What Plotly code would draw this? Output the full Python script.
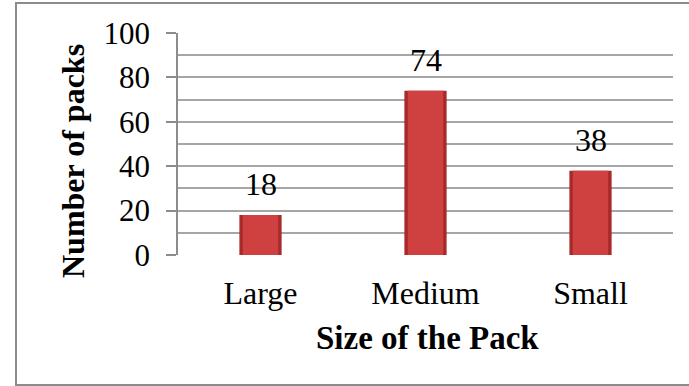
import plotly.graph_objects as go

# Pack size survey data
categories = ["Large", "Medium", "Small"]
packs = [18, 74, 38]
y_ticks = [0, 20, 40, 60, 80, 100]

W, H = 689, 386
ML, MR, MT, MB = 178, 16, 33, 131
pw, ph = W - ML - MR, H - MT - MB

def px_x(x):
    return (x - ML) / pw

def px_y(y):
    return (H - MB - y) / ph

serif = "Liberation Serif, Times New Roman, serif"

fig = go.Figure()
# darker outer body of each bar gives the bevelled edge
fig.add_trace(go.Bar(
    x=categories, y=packs, width=0.256,
    marker=dict(color="#A82A2A", line=dict(width=0)),
    hoverinfo="skip",
))
# lighter face of each bar
fig.add_trace(go.Bar(
    x=categories, y=packs, width=0.215,
    marker=dict(color="#CF4141", line=dict(width=0)),
))

# value labels above the bars
for c, v in zip(categories, packs):
    fig.add_annotation(
        x=c, y=v, text=str(v), showarrow=False,
        yanchor="bottom", yshift=11,
        font=dict(family=serif, size=32, color="#000"),
    )

# axis titles
fig.add_annotation(
    x=px_x(73), y=px_y(161), xref="paper", yref="paper",
    xanchor="center", yanchor="middle",
    text="<b>Number of packs</b>", textangle=-90, showarrow=False,
    font=dict(family=serif, size=32, color="#000"),
)
fig.add_annotation(
    x=px_x(427), y=px_y(338), xref="paper", yref="paper",
    xanchor="center", yanchor="middle",
    text="<b>Size of the Pack</b>", showarrow=False,
    font=dict(family=serif, size=33, color="#000"),
)

# outer chart frame
fig.add_shape(
    type="rect", xref="paper", yref="paper",
    x0=px_x(16), x1=px_x(705), y0=px_y(385), y1=px_y(3),
    line=dict(color="#8C8C8C", width=2), layer="below",
)

fig.update_layout(
    width=W, height=H,
    margin=dict(l=ML, r=MR, t=MT, b=MB),
    paper_bgcolor="white", plot_bgcolor="white",
    barmode="overlay", showlegend=False,
    xaxis=dict(
        range=[-0.5, 2.5], showgrid=False, zeroline=False,
        showline=False, ticks="outside", ticklen=10,
        tickcolor="rgba(0,0,0,0)",
        tickfont=dict(family=serif, size=32, color="#000"),
    ),
    yaxis=dict(
        range=[0, 100], tickvals=y_ticks, ticktext=[str(t) for t in y_ticks],
        showgrid=True, gridcolor="#A6A6A6", gridwidth=1.5,
        zeroline=False, showline=True, linecolor="#8C8C8C", linewidth=1.5,
        ticks="outside", ticklen=10, tickcolor="#8C8C8C", tickwidth=1.5,
        ticklabelstandoff=10,
        minor=dict(dtick=10, showgrid=True, gridcolor="#A6A6A6", gridwidth=1.5, ticks=""),
        tickfont=dict(family=serif, size=31, color="#000"),
    ),
)

fig.write_html("out.html")
